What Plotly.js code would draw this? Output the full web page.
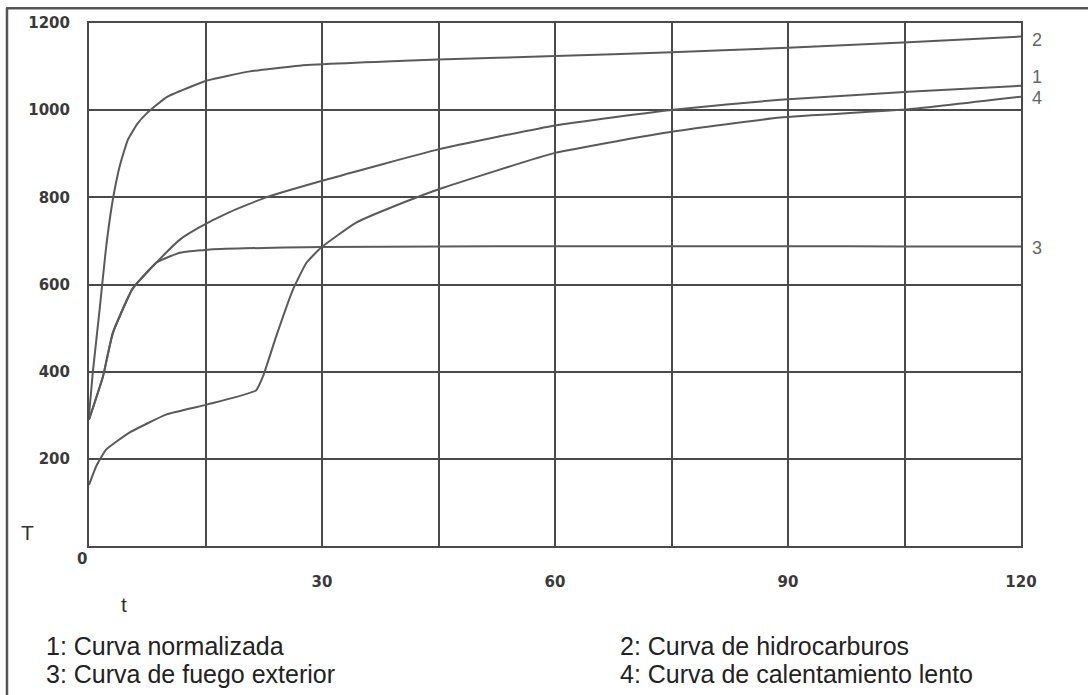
<!DOCTYPE html>
<html>
<head>
<meta charset="utf-8">
<script src="https://cdn.plot.ly/plotly-3.0.1.min.js"></script>
<style>html,body{margin:0;padding:0;background:#fff;}#chart{width:1088px;height:695px;}</style>
</head>
<body>
<div id="chart"></div>
<script>
// Curve 1: Curva normalizada
const t1 = [0, 1.8, 3.07, 5.6, 8.66, 11.7, 14.2, 18.1, 22.8, 30.6, 45, 60, 75.2, 89, 105.5, 120];
const T1 = [290, 389, 489, 590, 650, 703, 731, 766, 800, 841, 910, 965, 1001, 1024, 1042, 1056];
// Curve 2: Curva de hidrocarburos
const t2 = [0, 0.5, 1.35, 2.2, 3.07, 4.0, 5.0, 6.2, 7.4, 10, 15.2, 20.7, 27.1, 45, 60, 75, 90, 105.5, 120];
const T2 = [300, 400, 540, 685, 795, 875, 932, 968, 992, 1030, 1068, 1089, 1102, 1116, 1124, 1133, 1143, 1156, 1169];
// Curve 3: Curva de fuego exterior
const t3 = [0, 1.8, 3.07, 5.6, 8.66, 11.7, 15.3, 20, 30.1, 45, 60, 75, 90, 105, 120];
const T3 = [290, 389, 489, 590, 650, 673, 680, 683, 686, 687, 688, 688, 688, 687, 687];
// Curve 4: Curva de calentamiento lento
const t4 = [0, 0.93, 2.2, 5.2, 10, 15.3, 21.5, 22.4, 24.1, 26.3, 28, 29.9, 34.4, 40.9, 45.6, 60, 75.2, 89, 105.5, 120];
const T4 = [140, 183, 221, 260, 302, 325, 357, 389, 481, 590, 650, 685, 742, 791, 822, 902, 951, 983, 1002, 1031];

const curveLabels = ['1', '2', '3', '4'];
const legendTexts = ['1: Curva normalizada', '2: Curva de hidrocarburos', '3: Curva de fuego exterior', '4: Curva de calentamiento lento'];

const xTickVals = [0, 15, 30, 45, 60, 75, 90, 105, 120];
const xTickText = ['', '', '30', '', '60', '', '90', '', '120'];
const yTickVals = [0, 200, 400, 600, 800, 1000, 1200];
const yTickText = ['', '200', '400', '600', '800', '1000', '1200'];

const lineStyle = {color: '#5a5a5a', width: 2, shape: 'spline', smoothing: 0.4};
const series = [[t1, T1], [t2, T2], [t3, T3], [t4, T4]];
const traces = series.map((s, i) => ({
  x: s[0], y: s[1], type: 'scatter', mode: 'lines', line: lineStyle,
  name: curveLabels[i], hoverinfo: 'skip'
}));

const tickFont = {family: 'DejaVu Sans', size: 15, color: '#3a3a3a', weight: 'bold'};
const labelShift = {'1': 9, '2': -3, '3': -1, '4': -1};
const annotations = [];
series.forEach((s, i) => {
  const lab = curveLabels[i];
  annotations.push({
    xref: 'x', yref: 'y', x: s[0][s[0].length - 1], y: s[1][s[1].length - 1],
    text: lab, showarrow: false, xanchor: 'center', yanchor: 'middle',
    xshift: 16, yshift: labelShift[lab],
    font: {family: 'Liberation Sans', size: 18, color: '#666'}
  });
});
annotations.push({xref: 'x', yref: 'y', x: 0, y: 0, text: '0', showarrow: false,
  xanchor: 'center', yanchor: 'middle', xshift: -7, yshift: -13, font: tickFont});
annotations.push({xref: 'paper', yref: 'paper', x: -0.066, y: 0.025, text: 'T', showarrow: false,
  xanchor: 'center', yanchor: 'middle', font: {family: 'Liberation Sans', size: 21, color: '#333'}});
annotations.push({xref: 'paper', yref: 'paper', x: 0.0376, y: -0.1128, text: 't', showarrow: false,
  xanchor: 'center', yanchor: 'middle', font: {family: 'Liberation Sans', size: 21, color: '#333'}});
const legPos = [[-0.0485, -0.1912], [0.568, -0.1912], [-0.0485, -0.2438], [0.568, -0.2438]];
legendTexts.forEach((txt, i) => {
  annotations.push({xref: 'paper', yref: 'paper', x: legPos[i][0], y: legPos[i][1], text: txt,
    showarrow: false, xanchor: 'left', yanchor: 'middle',
    font: {family: 'Liberation Sans', size: 25, color: '#222'}});
});

const gridColor = '#4a4a4a';
const layout = {
  width: 1088, height: 695,
  margin: {l: 89, r: 67, t: 23, b: 149, pad: 0},
  paper_bgcolor: '#fff', plot_bgcolor: '#fff',
  showlegend: false,
  xaxis: {
    range: [0, 120], tickvals: xTickVals, ticktext: xTickText, ticks: '',
    showgrid: true, gridcolor: gridColor, gridwidth: 2, zeroline: false,
    showline: true, mirror: true, linecolor: gridColor, linewidth: 2,
    tickfont: tickFont, ticklabelstandoff: 21, fixedrange: true
  },
  yaxis: {
    range: [0, 1200], tickvals: yTickVals, ticktext: yTickText, ticks: '',
    showgrid: true, gridcolor: gridColor, gridwidth: 2, zeroline: false,
    showline: true, mirror: true, linecolor: gridColor, linewidth: 2,
    tickfont: tickFont, ticklabelstandoff: 14, fixedrange: true
  },
  annotations: annotations,
  shapes: [
    {type: 'line', xref: 'paper', yref: 'paper', x0: -0.088, x1: -0.088, y0: 1.028, y1: -0.3, line: {color: '#555', width: 2.5}},
    {type: 'line', xref: 'paper', yref: 'paper', x0: -0.089, x1: 1.08, y0: 1.028, y1: 1.028, line: {color: '#555', width: 2.5}}
  ]
};

Plotly.newPlot('chart', traces, layout, {displayModeBar: false, staticPlot: true});
</script>
</body>
</html>
